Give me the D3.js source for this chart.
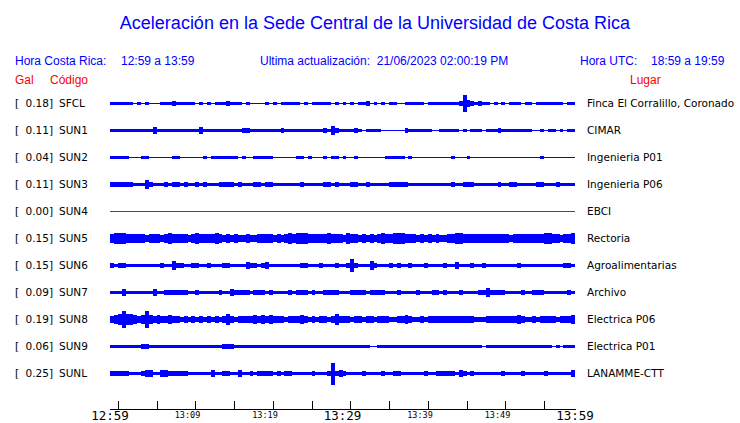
<!DOCTYPE html>
<html><head><meta charset="utf-8">
<script src="https://cdn.jsdelivr.net/npm/d3@7"></script>
<style>body{margin:0;background:#fff}svg{display:block}</style>
</head><body><svg id="c" width="740" height="423"></svg>
<script>
const title = "Aceleración en la Sede Central de la Universidad de Costa Rica";
const stations = ["SFCL","SUN1","SUN2","SUN3","SUN4","SUN5","SUN6","SUN7","SUN8","SUN9","SUNL"];
const galMax = ["0.18","0.11","0.04","0.11","0.00","0.15","0.15","0.09","0.19","0.06","0.25"];
const places = ["Finca El Corralillo, Coronado","CIMAR","Ingenieria P01","Ingenieria P06","EBCI","Rectoria","Agroalimentarias","Archivo","Electrica P06","Electrica P01","LANAMME-CTT"];
const tickLabels = ["12:59","13:09","13:19","13:29","13:39","13:49","13:59"];
// envelope half-amplitude per 30-second bin (relative units), 120 bins per station
const SFCL = [1.7,1.7,1.7,1.7,1.7,1.7,0,1.2,1,1.2,0,0,0,1.7,1.7,1.7,2.5,1.7,1.7,1.5,1.5,1.7,0,1.7,0,1.7,0,1.7,1.7,1.7,2.5,1.7,1.7,1.7,0,1.5,0,1,0,0,1.7,0,1.5,0,1.7,1.5,1.5,1.5,1.5,0,1.5,0,1.7,1.7,1.7,1.7,1.5,0,1.5,0,1.2,0,1.7,0,1.7,1.7,2.3,0,1.7,0,1.5,0,1.7,1.7,0,0,1.7,1.7,1.5,1.7,1.5,0,1.7,1.7,1.7,1.7,1.7,1.7,1.7,2,2.8,9,4,2.5,1.7,2.5,1.7,1.5,0,1.5,0,1.7,0,1.7,1.7,1.5,0,1.7,1.7,0,1.7,1.7,1.7,1.7,1.7,1.5,1.5,0,1.7,1.7];
const SUN1 = [1.7,1.7,1.7,1.7,1.7,1.7,1.7,1.7,1.7,1.7,1.7,4,2,1.7,1.7,1.7,1.7,1.7,1.7,1.7,1.7,1.7,1.7,3.3,1.7,1.7,1.7,1.7,1.7,1.7,1.7,1.7,1.7,1.7,2.5,2.5,1.7,1.5,1.7,1.7,1.7,1.7,1.7,1.7,2.5,1.7,1.7,1.7,1.7,1.7,1.7,1.7,1.7,1.7,1.7,2.5,2,5,2.5,1.7,1.7,1.7,1.7,3,1.2,0,1.5,1.5,1.5,1.5,0,0,0,0,1,0,2.5,1.7,1.7,1.7,1.7,1.7,1.7,0,0,1.5,1.7,1.7,1.7,1.5,0,1.5,0,1.7,1.7,1.2,0,1.7,1.7,1.7,2.5,1.7,1.7,1.7,1.7,1.7,1.5,1.7,1.7,0,0,1.5,0,1.2,1.2,0,1.2,0,1.7,1.7];
const SUN2 = [1.2,1.3,1.3,1.3,1.3,0,0,0,1.5,2,1,1,1,0,1,0,1.2,1.2,0,1,0,1,0,0,1.2,1,1.2,1.2,1.3,2,2,1.3,1.3,1,1.2,0,0,1.2,1.2,1.2,1.2,1.2,1,0,0,1,0,1,1.2,1.2,1,1.2,0,1,0,1.2,0,1.2,1.3,0,1.2,0,0,1.2,0,1,1,0,0,0,0,1.3,1.3,2,1.5,1.3,1,1.3,0,0,0,0,0,0,0,0,0,0,1.3,1,0,0,1.2,0,1,0,0,0,0,0,1,0,0,1,0,0,1,0,1,0,0,1.2,0,1,0,0,0,0,0,0];
const SUN3 = [2.2,2.5,2.8,2.5,2.5,2.2,1.7,1.7,1.7,5.3,2.2,1.7,1.7,1.7,2.3,1.7,2.3,2.2,1.7,2.2,1.7,1.7,2.3,1.7,2.2,1.7,1.7,1.7,2.5,3,2.8,2.5,1.7,2.2,1.7,1.7,1.7,2.3,2.2,1.7,2.3,2.2,1.7,1.7,1.7,1.7,1.7,1.7,1.7,2.5,1.7,1.7,1.7,1.7,1.7,2.2,2.3,1.7,3,1.7,1.7,1.7,2.2,2.2,1.7,1.7,2.3,1.7,1.7,1.7,1.7,1.7,2.2,2.5,2.5,2.5,2.5,1.7,1.7,1.7,1.7,1.7,1.7,1.7,1.7,1.7,1.7,1.7,2.5,1.7,1.7,2.2,2.5,2.2,1.7,1.7,1.7,1.7,1.7,1.7,2.2,1.7,1.7,2.3,2.3,1.7,1.7,1.7,1.7,1.7,2.2,2.5,1.7,1.7,1.7,2.2,1.7,1.7,1.7,1.7];
const SUN4 = new Array(120).fill(0);
const SUN5 = [5,5.5,6,6.5,5,5,4.5,5,4.5,4.3,4.5,4.5,4.8,4.3,5,5.5,5,4.5,5,4.5,4.3,4.5,6.5,5,5.2,5,4.5,5.5,4.8,4.3,4.5,4.3,4.5,4.3,4.3,4.5,4.3,4.3,5,5.3,4.8,4.5,4.3,4.5,4.3,4.5,5.5,5.3,5.8,6.5,5.5,5,5.3,5,4.8,5,5.5,4.8,5.2,4.5,4.3,6.5,5,4.5,4.3,4.5,4.3,4.5,4.3,4.5,5.5,4.5,5,5.5,5.5,6.5,5.2,5,4.5,4.3,4.5,4.3,4.5,4.3,4.5,4.3,4.3,4.5,4.8,5.5,5.5,5,4.5,4.8,5,5,4.8,5,5.3,5,4.8,5,4.5,4.3,4.5,5,5,5.3,5,4.8,5.2,5,6.5,5.5,5,4.5,4.3,4.5,4.5,5.5];
const SUN6 = [2.5,1.7,2.5,2.5,1.7,1.7,1.7,1.7,1.7,1.7,1.7,1.7,1.7,2.5,1.7,1.7,5,3,2.3,1.7,1.7,2.3,2.3,1.7,1.7,2.3,1.7,1.7,1.7,3,2.3,1.7,1.7,1.7,1.7,3.5,2.3,2.3,1.7,2.3,3.5,1.7,1.7,1.7,1.7,1.7,1.7,1.7,1.7,3,2.3,1.7,1.7,1.7,2.3,1.7,1.7,1.7,2.3,1.7,1.7,2.3,7.5,2.5,1.7,1.7,1.7,5,2.3,1.7,1.7,1.7,2.3,1.7,2.3,1.7,1.7,2.3,1.7,1.7,1.7,2.3,1.7,1.7,1.7,1.7,3,1.7,1.7,3.5,1.7,1.7,1.7,2.3,1.7,1.7,2.3,1.7,1.7,1.7,1.7,1.7,1.7,1.7,1.7,2.5,1.7,1.7,1.7,1.7,1.7,1.7,1.7,1.7,1.7,1.7,1.7,2.3,2.3,1.7];
const SUN7 = [1.6,1.6,1.6,3.5,1.6,1.6,1.6,2,2,2,2,4,1.6,2,2.3,2.3,2.5,2.3,2.5,2.3,1.6,1.6,2.2,1.6,1.6,2,1.6,1.6,2.2,1.6,1.6,3.5,2.3,2.3,2.5,2.3,1.6,3,2.2,2.2,2,2.2,1.6,1.6,1.6,1.6,2.2,1.6,2.2,2.2,2.3,1.6,2.2,1.6,1.6,2.3,2.2,2.5,2.3,1.6,1.6,1.6,3,2.5,2.5,2.5,1.6,2.3,2.3,2.2,2.5,1.6,1.6,1.6,2.2,1.6,1.6,1.6,1.6,2.2,1.6,1.6,1.6,2.2,2.3,1.6,2.5,1.6,1.6,1.6,2.2,1.6,1.6,1.6,1.6,2.3,2.8,4.5,2.5,2.3,2.2,2.3,1.6,1.6,1.6,1.6,2.2,1.6,1.6,2.5,3,2.3,1.6,1.6,1.6,1.6,1.6,1.6,2.2,1.6];
const SUN8 = [3.5,5,6,9,6,5.5,5,4,4.5,9,5,4,4.5,3.5,4,4.5,3.5,3.5,3,3.5,3,3.5,3,3.5,3,3.5,3,3.5,3,4,5.5,4,3,3.5,4,3.5,4,4.5,4,4.5,4,5,3.5,3.5,3.5,3,3.5,3.5,3.5,5,3.5,3,3.5,3,3.5,3.5,3,3.5,6.5,3.5,3.5,3.5,3,3.5,3.5,3,3.5,3.5,3,3.5,3.5,3.5,3,3,3.5,4,4.5,3.5,3,3,3.5,3,3.5,3.5,3.5,3.5,4,4,4,4,3.5,4,3.5,3.5,3,3,3,3.5,3.5,3.5,3.5,4,3.5,3.5,3.5,4.5,3.5,3,3,3.5,3,3.5,3.5,3.5,3.5,3,3.5,3.5,3.5,4.5];
const SUN9 = [1.6,1.6,1.6,1.6,1.6,1.6,1.6,1.6,2.2,3,1.6,1.6,1.6,1.6,1.6,1.6,1.6,1.6,1.6,1.6,1.6,1.6,1.6,1.6,1.6,1.6,1.6,1.6,1.6,2.2,2.5,2.3,1.6,1.6,1.6,1.6,1.6,1.6,1.6,1.6,1.6,1.6,1.6,1.6,1.6,1.6,1.6,1.6,1.6,1.6,1.6,1.6,1.6,1.6,1.6,1.6,1.6,1.6,2,1.6,2,1.6,1.6,1.6,1.6,1.6,1.6,0,0,1.6,1.6,1.6,1.6,1.6,1.6,1.6,1.6,1.6,1.6,1.6,1.6,1.6,1.6,1.6,1.6,1.6,1.6,1.6,1.6,1.6,1.6,1.6,1.6,1.6,1.6,1.6,0,1.6,1.6,1.6,1.6,1.6,1.6,1.6,1.6,1.6,1.6,1.6,1.6,1.6,1.6,1.6,1.6,1.6,0,1.6,0,1.6,1.6,1.6];
const SUNL = [2.5,2.8,3,2.5,2.2,1.7,1.7,1.7,2.2,3.5,3.8,1.7,1.7,4,4,2.2,2.5,2.3,2.5,2.2,1.7,1.7,1.7,1.7,1.7,1.7,3.5,1.7,1.7,2.5,2.2,1.7,1.7,3.5,1.7,1.7,2.2,1.7,2.2,3,2.8,2.2,1.7,2.2,1.7,2.2,2.3,1.7,1.7,1.7,1.7,1.7,2.2,1.7,1.7,1.7,2.2,12,3,3.5,3,1.7,1.7,1.7,1.7,2.2,1.7,1.7,1.7,1.7,2.2,1.7,1.7,2.2,3,1.7,1.7,1.7,1.7,1.7,1.7,2.2,1.7,1.7,2.2,2.2,2.2,2.3,2.2,1.7,3.5,2.3,1.7,2.5,1.7,1.7,1.7,1.7,1.7,1.7,1.7,2.2,1.7,1.7,1.7,1.7,2.2,1.7,1.7,1.7,1.7,1.7,2.2,1.7,1.7,1.7,1.7,1.7,1.7,4];
const traces = [SFCL,SUN1,SUN2,SUN3,SUN4,SUN5,SUN6,SUN7,SUN8,SUN9,SUNL];
const traceColors = ["#0000ff","#0000ff","#0000ff","#0000ff","#ff0000","#0000ff","#0000ff","#0000ff","#0000ff","#0000ff","#0000ff"];

const svg = d3.select("#c");
svg.append("rect").attr("width",740).attr("height",423).attr("fill","#fff");
const BLUE = "#0000ff", RED = "#ff0000";
const sans = "'Liberation Sans', Arial, sans-serif";
const dv = "'DejaVu Sans', sans-serif";
const mono = "'DejaVu Sans Mono', monospace";

svg.append("text").attr("x",375).attr("y",29).attr("text-anchor","middle")
  .attr("font-family",sans).attr("font-size",18).attr("fill",BLUE).text(title);

const hdr = [["Hora Costa Rica:",15],["12:59 a 13:59",121],["Ultima actualización:  21/06/2023 02:00:19 PM",260],["Hora UTC:",580],["18:59 a 19:59",651]];
svg.selectAll("text.h").data(hdr).enter().append("text").attr("class","h")
  .attr("x",d=>d[1]).attr("y",65).attr("font-family",sans).attr("font-size",12).attr("fill",BLUE)
  .attr("xml:space","preserve").text(d=>d[0]);
const hdr2 = [["Gal",15],["Código",50],["Lugar",630]];
svg.selectAll("text.h2").data(hdr2).enter().append("text").attr("class","h2")
  .attr("x",d=>d[1]).attr("y",84).attr("font-family",sans).attr("font-size",12).attr("fill",RED).text(d=>d[0]);

const t0 = new Date(2023,5,21,12,59,0), t1 = new Date(2023,5,21,13,59,0);
const x = d3.scaleTime().domain([t0,t1]).range([110,575]);
const row = d3.scalePoint().domain(stations).range([103,373]);
const amp = d3.scaleLinear().domain([0,12]).range([0,11]);
const binTime = i => new Date(t0.getTime() + i*30000);

stations.forEach((s,k)=>{
  const y0 = row(s);
  const g = svg.append("g");
  g.append("line").attr("x1",x(t0)).attr("x2",x(t1)).attr("y1",y0+0.5).attr("y2",y0+0.5)
    .attr("stroke",traceColors[k]).attr("stroke-width",1).attr("shape-rendering","crispEdges");
  g.selectAll("rect").data(traces[k].map((v,i)=>({v,i})).filter(d=>d.v>0)).enter().append("rect")
    .attr("x",d=>x(binTime(d.i))).attr("width",d=>x(binTime(d.i+1))-x(binTime(d.i)))
    .attr("y",d=>y0+0.5-amp(d.v)).attr("height",d=>2*amp(d.v))
    .attr("fill",traceColors[k]).attr("shape-rendering","crispEdges");
  svg.append("text").attr("x",15).attr("y",y0+4).attr("font-family",dv).attr("font-size",10.5).attr("fill","#000").text("[");
  svg.append("text").attr("x",53).attr("y",y0+4).attr("text-anchor","end").attr("font-family",dv).attr("font-size",10.5).attr("fill","#000").text(galMax[k]+"]");
  svg.append("text").attr("x",59).attr("y",y0+4).attr("font-family",dv).attr("font-size",10.5).attr("fill","#000").text(s);
  svg.append("text").attr("x",587).attr("y",y0+4).attr("font-family",dv).attr("font-size",10.5).attr("fill","#000").text(places[k]);
});

// time axis
const axY = 409;
const axis = d3.axisTop(x).ticks(d3.timeMinute.every(5)).tickSize(9).tickFormat("");
const ag = svg.append("g").attr("transform",`translate(0,${axY+0.5})`).call(axis);
ag.select(".domain").remove();
ag.selectAll("line").attr("stroke","#000").attr("shape-rendering","crispEdges");
svg.append("line").attr("x1",x(t0)).attr("x2",x(t1)+1).attr("y1",axY+0.5).attr("y2",axY+0.5).attr("stroke","#000").attr("shape-rendering","crispEdges");
const labelTimes = tickLabels.map((l,i)=>new Date(t0.getTime()+i*600000));
svg.selectAll("text.tl").data(tickLabels).enter().append("text").attr("class","tl")
  .attr("x",(d,i)=>x(labelTimes[i])).attr("y",(d,i)=>i%3===0?420:418).attr("text-anchor","middle")
  .attr("font-family",mono).attr("font-size",(d,i)=>i%3===0?12.5:8.5).attr("fill","#000").text(d=>d);
</script></body></html>
